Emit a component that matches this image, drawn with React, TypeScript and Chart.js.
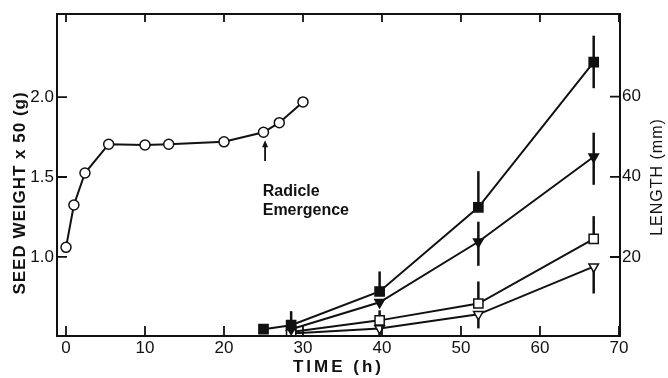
import { useEffect, useRef } from 'react';
import { Chart, registerables } from 'chart.js';

Chart.register(...registerables);

// ---- tick labels ----
const timeTicks = [0, 10, 20, 30, 40, 50, 60, 70];
const weightTicks = [1.0, 1.5, 2.0];
const lengthTicks = [20, 40, 60];

// ---- seed weight (left axis, g x 50) ----
const weightTimes = [0, 1, 2.4, 5.4, 10, 13, 20, 25, 27, 30];
const weightValues = [1.06, 1.325, 1.525, 1.705, 1.7, 1.705, 1.72, 1.78, 1.84, 1.97];

// ---- lengths (right axis, mm) ----
const filledSquareTimes = [25, 28.5, 39.7, 52.2, 66.8];
const filledSquareValues = [2.0, 3.0, 11.4, 32.4, 68.6];
const filledSquareErrUp = [0, 3.5, 5, 9, 6.6];
const filledSquareErrDown = [0, 0, 0, 0, 6.5];

const filledTriangleTimes = [28.5, 39.7, 52.2, 66.8];
const filledTriangleValues = [2.0, 8.7, 23.8, 45.0];
const filledTriangleErrUp = [0, 0, 5, 6];
const filledTriangleErrDown = [0, 0, 6, 7];

const openSquareTimes = [28.5, 39.7, 52.2, 66.8];
const openSquareValues = [1.3, 4.2, 8.4, 24.5];
const openSquareErrUp = [0, 2.5, 5.5, 5.7];
const openSquareErrDown = [0, 0, 0, 0];

const openTriangleTimes = [28.5, 39.7, 52.2, 66.8];
const openTriangleValues = [0.9, 2.2, 5.7, 17.6];
const openTriangleErrUp = [0, 0, 0, 0];
const openTriangleErrDown = [0, 2, 3.5, 6.7];

// ---- annotation ----
const arrowTime = 25.2;
const arrowFromWeight = 1.6;
const arrowToWeight = 1.73;
const noteTime = 24.9;
const noteLines = ['Radicle', 'Emergence'];
const noteWeights = [1.41, 1.29];

const INK = '#111';
const FONT = '"Liberation Sans", Arial, sans-serif';

const pts = (t: number[], v: number[]) => t.map((x, i) => ({ x, y: v[i] }));

export default function App() {
  const ref = useRef<HTMLCanvasElement | null>(null);

  useEffect(() => {
    const canvas = ref.current;
    if (!canvas) return;

    const errSets: Record<number, { up: number[]; down: number[] }> = {
      1: { up: filledSquareErrUp, down: filledSquareErrDown },
      2: { up: filledTriangleErrUp, down: filledTriangleErrDown },
      3: { up: openSquareErrUp, down: openSquareErrDown },
      4: { up: openTriangleErrUp, down: openTriangleErrDown },
    };

    const errorBars = {
      id: 'errorBars',
      beforeDatasetsDraw(chart: any) {
        const ctx = chart.ctx;
        const ys = chart.scales.y2;
        ctx.save();
        ctx.strokeStyle = INK;
        ctx.lineWidth = 2.5;
        Object.keys(errSets).forEach((k) => {
          const idx = Number(k);
          const ds = chart.data.datasets[idx];
          const meta = chart.getDatasetMeta(idx);
          const e = errSets[idx];
          ds.data.forEach((p: any, i: number) => {
            const el = meta.data[i];
            if (!el) return;
            if (!e.up[i] && !e.down[i]) return;
            const y1 = ys.getPixelForValue(p.y + e.up[i]);
            const y2 = ys.getPixelForValue(p.y - e.down[i]);
            ctx.beginPath();
            ctx.moveTo(el.x, y1);
            ctx.lineTo(el.x, y2);
            ctx.stroke();
          });
        });
        ctx.restore();
      },
    };

    const frame = {
      id: 'frame',
      afterDraw(chart: any) {
        const ctx = chart.ctx;
        const a = chart.chartArea;
        const xs = chart.scales.x;
        const yl = chart.scales.y;
        const yr = chart.scales.y2;
        ctx.save();
        ctx.strokeStyle = INK;
        ctx.lineWidth = 2;
        ctx.beginPath();
        ctx.rect(a.left, a.top, a.right - a.left, a.bottom - a.top);
        ctx.stroke();
        ctx.lineWidth = 1.8;
        ctx.beginPath();
        timeTicks.forEach((t) => {
          const x = xs.getPixelForValue(t);
          ctx.moveTo(x, a.bottom);
          ctx.lineTo(x, a.bottom - 10);
          ctx.moveTo(x, a.top);
          ctx.lineTo(x, a.top + 8);
        });
        weightTicks.forEach((w) => {
          const y = yl.getPixelForValue(w);
          ctx.moveTo(a.left, y);
          ctx.lineTo(a.left + 10, y);
        });
        lengthTicks.forEach((l) => {
          const y = yr.getPixelForValue(l);
          ctx.moveTo(a.right, y);
          ctx.lineTo(a.right - 10, y);
        });
        ctx.stroke();

        // arrow
        const ax = xs.getPixelForValue(arrowTime);
        const ay1 = yl.getPixelForValue(arrowFromWeight);
        const ay2 = yl.getPixelForValue(arrowToWeight);
        ctx.lineWidth = 1.8;
        ctx.beginPath();
        ctx.moveTo(ax, ay1);
        ctx.lineTo(ax, ay2 + 4);
        ctx.stroke();
        ctx.fillStyle = INK;
        ctx.beginPath();
        ctx.moveTo(ax, ay2);
        ctx.lineTo(ax - 3, ay2 + 7);
        ctx.lineTo(ax + 3, ay2 + 7);
        ctx.closePath();
        ctx.fill();

        // note text
        ctx.fillStyle = INK;
        ctx.font = `bold 16px ${FONT}`;
        ctx.textAlign = 'left';
        ctx.textBaseline = 'middle';
        noteLines.forEach((s, i) => {
          ctx.fillText(s, xs.getPixelForValue(noteTime), yl.getPixelForValue(noteWeights[i]));
        });

        // axis titles
        ctx.font = `bold 17px ${FONT}`;
        ctx.textAlign = 'center';
        ctx.textBaseline = 'middle';
        (ctx as any).letterSpacing = '1px';
        ctx.save();
        ctx.translate(20, 193);
        ctx.rotate(-Math.PI / 2);
        ctx.fillText('SEED WEIGHT x 50 (g)', 0, 0);
        ctx.restore();
        ctx.font = `16px ${FONT}`;
        ctx.save();
        ctx.translate(658, 177);
        ctx.rotate(-Math.PI / 2);
        ctx.fillText('LENGTH (mm)', 0, 0);
        ctx.restore();
        ctx.font = `bold 17px ${FONT}`;
        (ctx as any).letterSpacing = '3px';
        ctx.fillText('TIME (h)', (a.left + a.right) / 2, 367);
        ctx.restore();
      },
    };

    const lineBase = {
      type: 'line' as const,
      borderColor: INK,
      borderWidth: 2,
      pointBorderColor: INK,
      pointBorderWidth: 1.5,
      showLine: true,
      fill: false,
      tension: 0,
    };

    const tickFont = { family: FONT, size: 17 };

    const chart = new Chart(canvas, {
      type: 'line',
      data: {
        datasets: [
          {
            ...lineBase,
            data: pts(weightTimes, weightValues),
            yAxisID: 'y',
            pointStyle: 'circle',
            pointRadius: 5,
            pointBackgroundColor: '#fff',
            order: 1,
          },
          {
            ...lineBase,
            data: pts(filledSquareTimes, filledSquareValues),
            yAxisID: 'y2',
            pointStyle: 'rect',
            pointRadius: 6.5,
            pointBackgroundColor: INK,
            order: 1,
          },
          {
            ...lineBase,
            data: pts(filledTriangleTimes, filledTriangleValues),
            yAxisID: 'y2',
            pointStyle: 'triangle',
            pointRotation: 180,
            pointRadius: 5.5,
            pointBackgroundColor: INK,
            order: 2,
          },
          {
            ...lineBase,
            data: pts(openSquareTimes, openSquareValues),
            yAxisID: 'y2',
            pointStyle: 'rect',
            pointRadius: 6.5,
            pointBackgroundColor: '#fff',
            order: 3,
          },
          {
            ...lineBase,
            data: pts(openTriangleTimes, openTriangleValues),
            yAxisID: 'y2',
            pointStyle: 'triangle',
            pointRotation: 180,
            pointRadius: 5.5,
            pointBackgroundColor: '#fff',
            order: 4,
          },
        ],
      },
      options: {
        responsive: false,
        animation: false,
        devicePixelRatio: 1,
        layout: { padding: { top: 14, left: 0, right: 0, bottom: 0 } },
        plugins: { legend: { display: false }, tooltip: { enabled: false }, title: { display: false } },
        scales: {
          x: {
            type: 'linear',
            position: 'bottom',
            min: -1.14,
            max: 70.13,
            afterBuildTicks: (s: any) => {
              s.ticks = timeTicks.map((v) => ({ value: v }));
            },
            afterFit: (s: any) => {
              s.height = 42;
            },
            ticks: {
              color: INK,
              font: tickFont,
              padding: 2,
              maxRotation: 0,
              autoSkip: false,
              callback: (v: any) => String(v),
            },
            grid: { display: false, drawTicks: false },
            border: { display: false },
          },
          y: {
            type: 'linear',
            position: 'left',
            min: 0.505,
            max: 2.52,
            afterBuildTicks: (s: any) => {
              s.ticks = weightTicks.map((v) => ({ value: v }));
            },
            afterFit: (s: any) => {
              s.width = 57;
            },
            ticks: {
              color: INK,
              font: tickFont,
              padding: 3,
              callback: (v: any) => Number(v).toFixed(1),
            },
            grid: { display: false, drawTicks: false },
            border: { display: false },
          },
          y2: {
            type: 'linear',
            position: 'right',
            min: 0.3,
            max: 80.6,
            afterBuildTicks: (s: any) => {
              s.ticks = lengthTicks.map((v) => ({ value: v }));
            },
            afterFit: (s: any) => {
              s.width = 48;
            },
            ticks: {
              color: INK,
              font: tickFont,
              padding: 2,
              callback: (v: any) => String(v),
            },
            grid: { display: false, drawTicks: false },
            border: { display: false },
          },
        },
      },
      plugins: [errorBars, frame],
    } as any);

    return () => chart.destroy();
  }, []);

  return (
    <div style={{ position: 'absolute', left: 0, top: 0, width: 668, height: 378, background: '#fff' }}>
      <canvas ref={ref} width={668} height={378} style={{ display: 'block', width: 668, height: 378 }} />
    </div>
  );
}
